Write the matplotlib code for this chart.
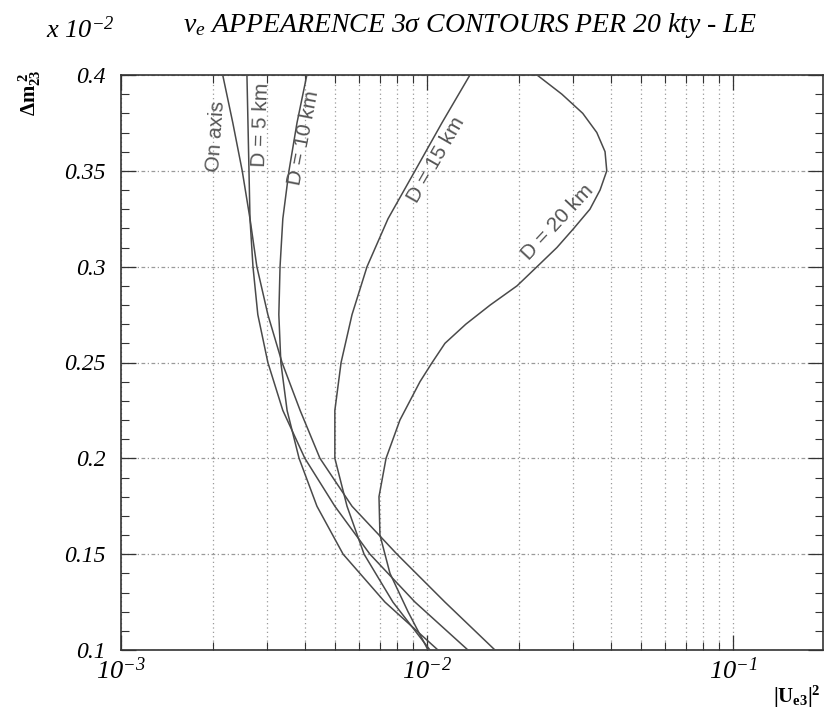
import matplotlib
matplotlib.use("Agg")
import matplotlib.pyplot as plt
from matplotlib.ticker import FixedLocator, NullFormatter, FixedFormatter, LogLocator

plt.rcParams['mathtext.fontset'] = 'custom'
plt.rcParams['mathtext.rm'] = 'Liberation Serif:italic'
plt.rcParams['mathtext.it'] = 'Liberation Serif:italic'
plt.rcParams['mathtext.bf'] = 'Liberation Serif:bold'
plt.rcParams['font.family'] = 'Liberation Serif'

# ---- data (|Ue3|^2 vs dm23^2 in units of 1e-2 eV^2) ----
dm_std = [0.40, 0.375, 0.35, 0.325, 0.30, 0.275, 0.25, 0.225, 0.20, 0.175, 0.15, 0.125, 0.10]
ue_onaxis = [0.00215, 0.00232, 0.00249, 0.00264, 0.00278, 0.00302, 0.00336, 0.00385,
             0.00447, 0.00569, 0.00798, 0.01145, 0.01668]
ue_d5 = [0.00258, 0.00260, 0.00262, 0.00264, 0.00270, 0.00280, 0.00302, 0.00338,
         0.00399, 0.00500, 0.00651, 0.00914, 0.01361]
ue_d10 = [0.00405, 0.00376, 0.00354, 0.00338, 0.00331, 0.00328, 0.00333, 0.00349,
          0.00382, 0.00437, 0.00532, 0.00729, 0.01086]
ue_d15 = [0.01382, 0.01119, 0.00914, 0.00746, 0.00637, 0.00569, 0.00524, 0.00500,
          0.00500, 0.00548, 0.00623, 0.00774, 0.01023]
dm_d20 = [0.40, 0.39, 0.38, 0.37, 0.36, 0.35, 0.34, 0.33, 0.32, 0.31, 0.30, 0.29, 0.28,
          0.27, 0.26, 0.25, 0.24, 0.22, 0.20, 0.18, 0.16, 0.14, 0.12, 0.10]
ue_d20 = [0.0229, 0.0276, 0.0323, 0.0359, 0.0382, 0.0387, 0.0368, 0.0341, 0.0302, 0.0266,
          0.0229, 0.0197, 0.0161, 0.0134, 0.01145, 0.0104, 0.00949, 0.00816, 0.00735,
          0.00697, 0.00702, 0.00757, 0.00867, 0.01008]

curve_labels = ["On axis", "D = 5 km", "D = 10 km", "D = 15 km", "D = 20 km"]
ytick_vals = [0.1, 0.15, 0.2, 0.25, 0.3, 0.35, 0.4]
ytick_labels = ["0.1", "0.15", "0.2", "0.25", "0.3", "0.35", "0.4"]
xtick_vals = [1e-3, 1e-2, 1e-1]
xtick_labels = [r"$10^{-3}$", r"$10^{-2}$", r"$10^{-1}$"]

W, H = 827, 715
fig = plt.figure(figsize=(W/100, H/100), dpi=100)
ax = fig.add_axes([121/W, 1-650/H, (823-121)/W, (650-75)/H])

lc = '#4a4a4a'
for xs, ys in [(ue_onaxis, dm_std), (ue_d5, dm_std), (ue_d10, dm_std),
               (ue_d15, dm_std), (ue_d20, dm_d20)]:
    ax.plot(xs, ys, color=lc, lw=1.1, zorder=3)

ax.set_xscale('log')
ax.set_xlim(1e-3, 0.197)
ax.set_ylim(0.1, 0.4)

ax.xaxis.set_major_locator(FixedLocator(xtick_vals))
ax.xaxis.set_major_formatter(FixedFormatter(xtick_labels))
ax.xaxis.set_minor_locator(LogLocator(base=10, subs=range(2, 10)))
ax.xaxis.set_minor_formatter(NullFormatter())
ax.yaxis.set_major_locator(FixedLocator(ytick_vals))
ax.yaxis.set_major_formatter(FixedFormatter(ytick_labels))
ax.yaxis.set_minor_locator(FixedLocator([0.1 + 0.01*i for i in range(31)]))

ax.tick_params(which='both', direction='in', top=True, right=True, color='#333333')
ax.tick_params(which='major', length=11, width=0.9)
ax.tick_params(which='minor', length=6, width=0.8)
ax.tick_params(axis='y', which='major', labelsize=17, pad=11)
ax.tick_params(axis='x', which='major', labelsize=19, pad=5)
for lbl in ax.get_yticklabels():
    lbl.set_fontstyle('italic')
    lbl.set_fontfamily('Liberation Serif')

ax.grid(True, which='both', axis='x', color='#9a9a9a', ls=(0, (1, 2.5)), lw=0.9)
ax.grid(True, which='major', axis='y', color='#9a9a9a', ls=(0, (3, 2, 1, 2)), lw=0.9)
ax.set_axisbelow(True)
for s in ax.spines.values():
    s.set_linewidth(1.2)
    s.set_color('#333333')

# curve labels (pixel centres converted to axes fraction)
def axfrac(px, py):
    return ((px-121)/(823-121), (650-py)/(650-75))

lab_pos = [(216, 136, 86), (261, 125, 88), (304, 138, 79), (436, 160, 60), (558, 222, 47)]
for txt, (px, py, rot) in zip(curve_labels, lab_pos):
    fx, fy = axfrac(px, py)
    ax.text(fx, fy, txt, transform=ax.transAxes, rotation=rot, ha='center', va='center',
            fontsize=15, color='#555555', family='Liberation Sans', rotation_mode='anchor',
            zorder=4)

fig.text(470/W, 1-25/H, r"$\nu_e$ APPEARENCE 3$\sigma$ CONTOURS PER 20 kty - LE",
         ha='center', va='center', fontsize=20, family='Liberation Serif', style='italic')
fig.text(46/W, 1-30/H, r"x $10^{-2}$", ha='left', va='center', fontsize=19,
         family='Liberation Serif', style='italic')
fig.text(30/W, 1-93/H, r"$\mathbf{\Delta m_{23}^{\ 2}}$", ha='center', va='center',
         rotation=90, fontsize=15)
fig.text(797/W, 1-697/H, r"$\mathbf{|U_{e3}|^{2}}$", ha='center', va='center',
         fontsize=15)

fig.savefig("out.png", dpi=100)
